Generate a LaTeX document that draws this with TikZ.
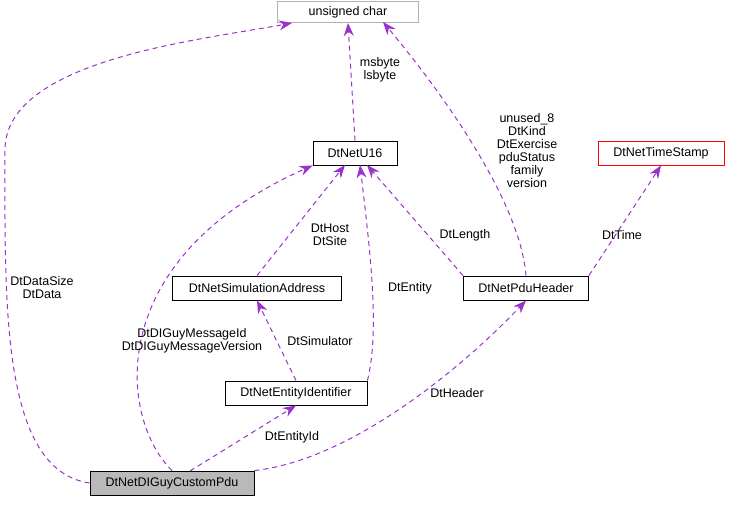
\documentclass[tikz,border=0pt]{standalone}
\usepackage{fontspec}
\setmainfont{Liberation Sans}
\usetikzlibrary{arrows.meta}
\tikzset{
  cls/.style={draw=black,fill=white,font=\fontsize{12.5}{13}\selectfont,minimum height=24pt,inner xsep=2pt,line width=0.9pt},
  rel/.style={draw={rgb,255:red,153;green,50;blue,204},line width=1pt,dash pattern=on 5pt off 4pt,
    -{Stealth[length=13pt,width=10pt,fill={rgb,255:red,153;green,50;blue,204}]}},
  lbl/.style={font=\fontsize{12.5}{13}\selectfont,align=center,inner sep=1pt}
}
\begin{document}
\begin{tikzpicture}[x=1pt,y=-1pt]
  \useasboundingbox (0,0) rectangle (729,504);
  % classes
  \node[cls,draw=gray!60,minimum width=141pt,minimum height=21pt] (uchar) at (348,12) {unsigned char};
  \node[cls,minimum width=84pt] (u16) at (355,153) {DtNetU16};
  \node[cls,draw=red,minimum width=126pt] (stamp) at (661,153) {DtNetTimeStamp};
  \node[cls,minimum width=169pt] (simaddr) at (257,288) {DtNetSimulationAddress};
  \node[cls,minimum width=125pt] (pduhdr) at (526,288) {DtNetPduHeader};
  \node[cls,minimum width=142pt] (entid) at (296,393) {DtNetEntityIdentifier};
  \node[cls,fill=gray!55,minimum width=164pt] (pdu) at (172,483) {DtNetDIGuyCustomPdu};
  % relations
  \draw[rel] (pdu.west) .. controls (0,470) and (5,300) .. (5,150)
    .. controls (5,60) and (200,40) .. (292,23);
  \node[lbl] (l1) at (42,288) {DtDataSize\\DtData};
  \draw[rel] (pdu.north) .. controls (120,420) and (100,260) .. (u16.south west);
  \node[lbl] (l2) at (192,341) {DtDIGuyMessageId\\DtDIGuyMessageVersion};
  \draw[rel] (190,471) -- (entid.south);
  \node[lbl] (l3) at (292,437) {DtEntityId};
  \draw[rel] (pdu.north east) .. controls (350,460) and (460,370) .. (pduhdr.south);
  \node[lbl] (l4) at (457,393) {DtHeader};
  \draw[rel] (entid.north) -- (simaddr.south);
  \node[lbl] (l5) at (320,341) {DtSimulator};
  \draw[rel] (entid.north east) .. controls (380,330) and (370,250) .. (360,165);
  \node[lbl] (l6) at (410,288) {DtEntity};
  \draw[rel] (simaddr.north) -- (345,165);
  \node[lbl] (l7) at (330,235) {DtHost\\DtSite};
  \draw[rel] (u16.north) -- (uchar.south);
  \node[lbl] (l8) at (380,70) {msbyte\\lsbyte};
  \draw[rel] (pduhdr.north west) -- (367,165);
  \node[lbl] (l9) at (465,235) {DtLength};
  \draw[rel] (pduhdr.north) .. controls (520,200) and (440,90) .. (383,22);
  \node[lbl] (l10) at (527,151) {unused\_8\\DtKind\\DtExercise\\pduStatus\\family\\version};
  \draw[rel] (pduhdr.north east) -- (stamp.south);
  \node[lbl] (l11) at (622,235) {DtTime};
\end{tikzpicture}
\end{document}
